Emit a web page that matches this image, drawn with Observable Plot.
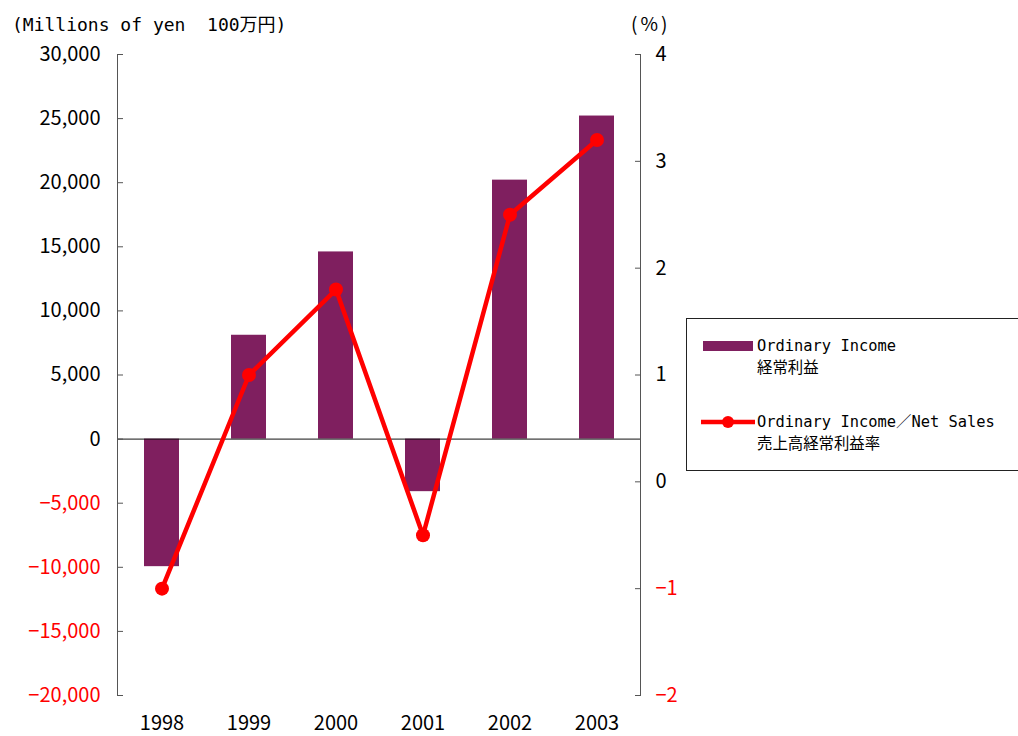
<!DOCTYPE html>
<html>
<head>
<meta charset="utf-8">
<script src="https://cdn.jsdelivr.net/npm/d3@7"></script>
<script src="https://cdn.jsdelivr.net/npm/@observablehq/plot@0.6"></script>
<style>
  html, body { margin: 0; padding: 0; background: #fff; }
  #wrap { position: relative; width: 1018px; height: 736px; overflow: hidden; font-family: "DejaVu Sans Mono", "Noto Sans CJK JP", monospace; }
  .t { position: absolute; white-space: pre; color: #000; }
  #legend { position: absolute; left: 686px; top: 318px; width: 360px; height: 153px; border: 1.5px solid #222; box-sizing: border-box; }
</style>
</head>
<body>
<div id="wrap"></div>
<script>
// ---- data ----
const years = ["1998", "1999", "2000", "2001", "2002", "2003"];
const ordinaryIncome = [-9950, 8100, 14600, -4100, 20200, 25200]; // millions of yen
const incomeRatio = [-1.0, 1.0, 1.8, -0.5, 2.5, 3.2];             // %
const leftTicks = [-20000, -15000, -10000, -5000, 0, 5000, 10000, 15000, 20000, 25000, 30000];
const rightTicks = [-2, -1, 0, 1, 2, 3, 4];
const leftDomain = [-20000, 30000];
const rightDomain = [-2, 4];
const titleLeft = "(Millions of yen\u00a0\u00a0100万円)";
const titleRight = "(%)";
const legendBar = ["Ordinary Income", "経常利益"];
const legendLine = ["Ordinary Income／Net Sales", "売上高経常利益率"];

const barColor = "#7F1F5F";
const lineColor = "#FF0000";

// map the % axis onto the yen axis (secondary axis)
const pctToYen = d3.scaleLinear().domain(rightDomain).range(leftDomain);

const rows = years.map((y, i) => ({year: y, income: ordinaryIncome[i], pct: incomeRatio[i]}));

const fmt = d3.format(",");
const numFont = '"Noto Sans CJK JP", "DejaVu Sans", sans-serif';

const chart = Plot.plot({
  width: 1018,
  height: 736,
  marginLeft: 117,
  marginRight: 378,
  marginTop: 54,
  marginBottom: 41,
  style: {fontFamily: numFont, fontSize: "20px", background: "white", overflow: "visible"},
  x: {domain: years, paddingInner: 0.6, paddingOuter: 0.3, axis: null},
  y: {domain: leftDomain, axis: null},
  marks: [
    Plot.barY(rows, {x: "year", y: "income", fill: barColor}),
    Plot.ruleY([0], {stroke: "#111", strokeWidth: 1}),
    // left axis
    Plot.frame({anchor: "left", stroke: "#555"}),
    Plot.axisY({anchor: "left", ticks: leftTicks, tickSize: -6, tickPadding: 23, stroke: "#555",
      tickFormat: d => fmt(d),
      fill: d => d < 0 ? "#FF0000" : "#000", label: null, fontSize: 20}),
    // right axis
    Plot.frame({anchor: "right", stroke: "#555"}),
    Plot.axisY({anchor: "right", ticks: rightTicks.map(pctToYen), tickSize: -6, tickPadding: 21, stroke: "#555",
      tickFormat: d => String(Math.round(pctToYen.invert(d))).replace("-", "−"),
      fill: d => pctToYen.invert(d) < -0.01 ? "#FF0000" : "#000", label: null, fontSize: 20}),
    // x axis labels
    Plot.axisX({anchor: "bottom", tickSize: 0, tickPadding: 20, label: null, fontSize: 20, fill: "#000"}),
    Plot.line(rows, {x: "year", y: d => pctToYen(d.pct), stroke: lineColor, strokeWidth: 4.5}),
    Plot.dot(rows, {x: "year", y: d => pctToYen(d.pct), fill: lineColor, r: 7})
  ]
});

const wrap = document.getElementById("wrap");
wrap.appendChild(chart);

function addText(txt, left, top, size, extra = "") {
  const el = document.createElement("div");
  el.className = "t";
  el.textContent = txt;
  el.style.cssText += `left:${left}px;top:${top}px;font-size:${size}px;${extra}`;
  wrap.appendChild(el);
  return el;
}
addText(titleLeft, 12, 10, 18);
addText(titleRight, 631, 13, 19, `font-family:${numFont};letter-spacing:3px;line-height:20px;`);

// legend
const legend = document.createElement("div");
legend.id = "legend";
wrap.appendChild(legend);
const lsvg = d3.select(legend).append("svg").attr("width", 360).attr("height", 153)
  .style("position", "absolute").style("left", "-1.5px").style("top", "-1.5px");
lsvg.append("rect").attr("x", 17).attr("y", 23).attr("width", 50).attr("height", 10).attr("fill", barColor);
lsvg.append("line").attr("x1", 15).attr("x2", 69).attr("y1", 104).attr("y2", 104)
  .attr("stroke", lineColor).attr("stroke-width", 4.5);
lsvg.append("circle").attr("cx", 42).attr("cy", 104).attr("r", 6).attr("fill", lineColor);
const lt = [[legendBar[0], 17], [legendBar[1], 39], [legendLine[0], 93], [legendLine[1], 115]];
for (const [s, top] of lt) {
  const el = document.createElement("div");
  el.className = "t";
  el.textContent = s;
  el.style.cssText += `left:70px;top:${top}px;font-size:15.4px;line-height:20px;`;
  legend.appendChild(el);
}
</script>
</body>
</html>
